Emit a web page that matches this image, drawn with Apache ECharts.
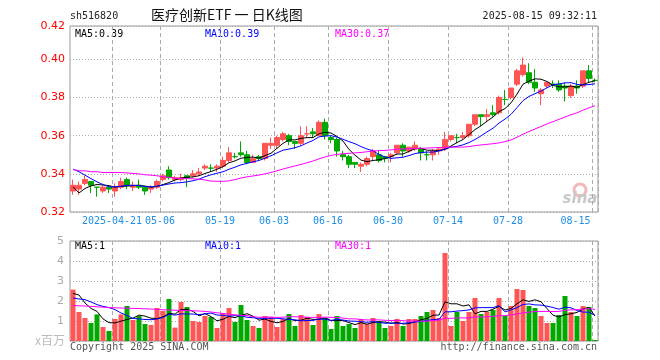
<!DOCTYPE html>
<html><head><meta charset="utf-8">
<script src="https://cdn.jsdelivr.net/npm/echarts@6/dist/echarts.min.js"></script>
<style>html,body{margin:0;padding:0;background:#fff}#c{width:660px;height:360px}</style>
</head><body><div id="c"></div>
<script>
const dates = [
'2025-04-10','2025-04-11','2025-04-14','2025-04-15','2025-04-16','2025-04-17','2025-04-18','2025-04-21','2025-04-22','2025-04-23','2025-04-24','2025-04-25','2025-04-28','2025-04-29','2025-04-30',
'2025-05-06','2025-05-07','2025-05-08','2025-05-09','2025-05-12','2025-05-13','2025-05-14','2025-05-15','2025-05-16','2025-05-19','2025-05-20','2025-05-21','2025-05-22','2025-05-23','2025-05-26','2025-05-27','2025-05-28','2025-05-29','2025-05-30',
'2025-06-03','2025-06-04','2025-06-05','2025-06-06','2025-06-09','2025-06-10','2025-06-11','2025-06-12','2025-06-13','2025-06-16','2025-06-17','2025-06-18','2025-06-19','2025-06-20','2025-06-23','2025-06-24','2025-06-25','2025-06-26','2025-06-27','2025-06-30',
'2025-07-01','2025-07-02','2025-07-03','2025-07-04','2025-07-07','2025-07-08','2025-07-09','2025-07-10','2025-07-11','2025-07-14','2025-07-15','2025-07-16','2025-07-17','2025-07-18','2025-07-21','2025-07-22','2025-07-23','2025-07-24','2025-07-25','2025-07-28','2025-07-29','2025-07-30','2025-07-31',
'2025-08-01','2025-08-04','2025-08-05','2025-08-06','2025-08-07','2025-08-08','2025-08-11','2025-08-12','2025-08-13','2025-08-14','2025-08-15'];

const opens  = [.331,.332,.335,.336,.333,.331,.333,.331,.333,.337,.333,.334,.333,.332,.333,.337,.342,.337,.337,.339,.339,.340,.343,.343,.343,.344,.347,.349,.351,.350,.346,.349,.348,.355,.355,.358,.360,.357,.356,.361,.362,.360,.367,.359,.358,.350,.349,.346,.344,.345,.349,.350,.349,.349,.351,.355,.352,.353,.353,.350,.350,.352,.353,.358,.359,.359,.360,.366,.371,.370,.372,.372,.379,.380,.387,.392,.393,.388,.382,.386,.387,.387,.386,.381,.386,.386,.394,.389];
const closes = [.334,.334,.337,.334,.333,.333,.332,.333,.336,.334,.334,.333,.331,.333,.336,.339,.338,.338,.338,.338,.340,.341,.344,.343,.344,.347,.351,.349,.350,.346,.348,.348,.356,.356,.359,.361,.357,.356,.360,.361,.361,.367,.360,.358,.352,.349,.345,.345,.345,.348,.352,.347,.348,.350,.355,.352,.354,.355,.351,.350,.352,.353,.358,.360,.359,.360,.366,.371,.370,.371,.371,.380,.379,.385,.394,.397,.388,.385,.384,.388,.387,.384,.385,.386,.385,.394,.390,.389];
const lows   = [.329,.329,.334,.330,.328,.330,.330,.328,.332,.332,.331,.332,.329,.330,.332,.336,.337,.336,.336,.333,.338,.339,.342,.341,.341,.343,.346,.348,.349,.345,.346,.347,.347,.353,.353,.357,.355,.353,.355,.359,.359,.360,.358,.356,.349,.347,.343,.343,.341,.344,.347,.346,.346,.346,.350,.349,.351,.352,.347,.347,.347,.350,.352,.357,.356,.358,.359,.365,.365,.367,.370,.371,.376,.379,.386,.391,.387,.383,.376,.385,.385,.383,.378,.380,.382,.385,.388,.388];
const highs  = [.337,.336,.339,.336,.333,.334,.334,.335,.338,.338,.336,.337,.333,.334,.337,.340,.344,.339,.340,.339,.342,.343,.345,.345,.345,.349,.354,.351,.357,.352,.350,.350,.356,.359,.360,.362,.361,.357,.365,.365,.364,.368,.369,.360,.359,.352,.350,.346,.346,.349,.353,.352,.349,.351,.355,.356,.354,.357,.354,.352,.353,.354,.362,.360,.361,.362,.366,.371,.371,.374,.376,.381,.384,.385,.395,.401,.398,.395,.385,.388,.389,.389,.388,.387,.389,.394,.397,.390];
const volumes = [2.57,1.45,1.15,0.90,1.33,0.70,0.50,1.10,1.33,1.75,1.05,1.25,0.85,0.80,1.65,1.50,2.10,0.67,1.95,1.70,1.00,0.95,1.25,1.20,0.65,1.38,1.65,0.95,1.80,1.05,0.75,0.65,1.25,1.20,0.70,1.10,1.35,0.75,1.30,1.20,0.80,1.35,1.15,0.60,1.25,0.75,0.85,0.65,1.10,0.85,1.15,1.00,0.65,0.75,1.10,0.75,1.10,1.10,1.25,1.45,1.55,1.15,4.40,0.75,1.45,1.00,1.45,2.15,1.35,1.45,1.55,2.15,1.25,1.75,2.60,2.55,1.75,1.65,1.25,0.90,0.90,1.30,2.25,1.45,1.25,1.75,1.70,0.05];

// moving-average values for the first days (history before the window)
const priceMa5Head  = [0.3332,0.3300,0.3323,0.3337];
const priceMa10Head = [0.3425,0.3411,0.3393,0.3375,0.3358,0.3344,0.3332,0.3332,0.3335];
const priceMa30Head = [0.3423,0.3416,0.3416,0.3411,0.3411,0.3407,0.3407,0.3407,0.3407,0.3405,0.3402,0.3400,0.3395,0.3393,0.3390,0.3384,0.3382,0.3377,0.3375,0.3375,0.3374,0.3372,0.3368,0.3362,0.3361,0.3361,0.3363,0.3370,0.3378];
const volMa5Head  = [2.38,2.30,1.90,1.63];
const volMa10Head = [2.15,2.10,2.07,1.95,1.82,1.73,1.67,1.57,1.40];
const volMa30Head = [1.78,1.76,1.75,1.73,1.71,1.69,1.67,1.66,1.65,1.64,1.63,1.62,1.61,1.60,1.58,1.56,1.55,1.54,1.53,1.52,1.51,1.50,1.48,1.45,1.41,1.38,1.34,1.31,1.28];

const tickIdx    = [7,15,25,34,43,53,63,73,87];
const tickLabels = ['2025-04-21','05-06','05-19','06-03','06-16','06-30','07-14','07-28','08-15'];
const priceLegend = ['MA5:0.39','MA10:0.39','MA30:0.37'];
const volLegend   = ['MA5:1','MA10:1','MA30:1'];

const UP = '#ff5555', DOWN = '#00a800';
function ma(arr, n, head) {
  return arr.map((v, i) => {
    if (i < n - 1) return head[i];
    let s = 0; for (let k = i - n + 1; k <= i; k++) s += arr[k];
    return +(s / n).toFixed(5);
  });
}
function sign(i) {
  if (closes[i] > opens[i]) return 1;
  if (closes[i] < opens[i]) return -1;
  return (i > 0 && closes[i - 1] > closes[i]) ? -1 : 1;
}
const kData = opens.map((o, i) => [o, closes[i], lows[i], highs[i]]);
const volData = volumes.map((v, i) => ({value: v, itemStyle: {color: sign(i) > 0 ? UP : DOWN}}));

const MONO = '"DejaVu Sans Mono", "Liberation Mono", monospace';
const vGrid = {show: true, interval: (i) => tickIdx.includes(i), lineStyle: {color: '#aaa', type: [4, 3], width: 1}};
const hGrid = {show: true, lineStyle: {color: '#aaa', type: [1, 2], width: 1}};

const chart = echarts.init(document.getElementById('c'), null, {renderer: 'canvas'});
function txt(text, x, y, color, font, align) {
  return {type: 'text', left: undefined, x: x, y: y, silent: true,
    style: {text: text, fill: color, font: font, textAlign: align || 'left', textVerticalAlign: 'middle'}};
}
chart.setOption({
  animation: false,
  backgroundColor: '#fff',
  grid: [
    {left: 70, top: 26, width: 528, height: 186, show: true, borderColor: '#999', borderWidth: 1, backgroundColor: 'transparent'},
    {left: 70, top: 241, width: 528, height: 100, show: true, borderColor: '#999', borderWidth: 1, backgroundColor: 'transparent'}
  ],
  xAxis: [
    {type: 'category', gridIndex: 0, data: dates, boundaryGap: true,
     axisLine: {show: false}, axisTick: {show: false}, splitLine: vGrid,
     axisLabel: {show: true, interval: (i) => tickIdx.includes(i), margin: 4,
       fontFamily: MONO, fontSize: 10, color: '#1e8ee6',
       formatter: (v, i) => { const k = tickIdx.indexOf(i); if (k < 0) return ''; return (k === tickIdx.length - 1 ? '{e|' : '{n|') + tickLabels[k] + '}'; },
       rich: {n: {padding: [0, 6, 0, 0], fontFamily: MONO, fontSize: 10, color: '#1e8ee6'},
              e: {padding: [0, 39, 0, 0], fontFamily: MONO, fontSize: 10, color: '#1e8ee6'}}}},
    {type: 'category', gridIndex: 1, data: dates, boundaryGap: true,
     axisLine: {show: false}, axisTick: {show: false}, axisLabel: {show: false}, splitLine: vGrid}
  ],
  yAxis: [
    {type: 'value', gridIndex: 0, min: 0.32, max: 0.4175, interval: 0.02, scale: true,
     axisLine: {show: false}, axisTick: {show: false}, splitLine: hGrid,
     axisLabel: {formatter: (v) => v.toFixed(2), color: '#ff0000', fontFamily: '"DejaVu Sans", sans-serif', fontSize: 11, margin: 5}},
    {type: 'value', gridIndex: 1, min: 0, max: 5, interval: 1,
     axisLine: {show: false}, axisTick: {show: false}, splitLine: hGrid,
     axisLabel: {formatter: (v) => v === 0 ? '' : String(v), color: '#aaa', fontFamily: '"DejaVu Sans", sans-serif', fontSize: 11, margin: 6}}
  ],
  series: [
    {type: 'candlestick', xAxisIndex: 0, yAxisIndex: 0, data: kData, barWidth: 5,
     itemStyle: {color: UP, color0: DOWN, borderColor: UP, borderColor0: DOWN, borderWidth: 1}},
    {type: 'line', xAxisIndex: 0, yAxisIndex: 0, data: ma(closes, 5, priceMa5Head), showSymbol: false, lineStyle: {color: '#000', width: 1}, itemStyle: {color: '#000'}},
    {type: 'line', xAxisIndex: 0, yAxisIndex: 0, data: ma(closes, 10, priceMa10Head), showSymbol: false, lineStyle: {color: '#0000ff', width: 1}, itemStyle: {color: '#0000ff'}},
    {type: 'line', xAxisIndex: 0, yAxisIndex: 0, data: ma(closes, 30, priceMa30Head), showSymbol: false, lineStyle: {color: '#ff00ff', width: 1}, itemStyle: {color: '#ff00ff'}},
    {type: 'bar', xAxisIndex: 1, yAxisIndex: 1, data: volData, barWidth: 5},
    {type: 'line', xAxisIndex: 1, yAxisIndex: 1, data: ma(volumes, 5, volMa5Head), showSymbol: false, lineStyle: {color: '#000', width: 1}, itemStyle: {color: '#000'}},
    {type: 'line', xAxisIndex: 1, yAxisIndex: 1, data: ma(volumes, 10, volMa10Head), showSymbol: false, lineStyle: {color: '#0000ff', width: 1}, itemStyle: {color: '#0000ff'}},
    {type: 'line', xAxisIndex: 1, yAxisIndex: 1, data: ma(volumes, 30, volMa30Head), showSymbol: false, lineStyle: {color: '#ff00ff', width: 1}, itemStyle: {color: '#ff00ff'}}
  ],
  graphic: [
    txt('sh516820', 70, 16, '#222', '10px ' + MONO),
    txt('医疗创新ETF 一 日K线图', 151, 15, '#111', '14px "Noto Sans CJK SC"'),
    txt('2025-08-15 09:32:11', 597, 16, '#222', '10px ' + MONO, 'right'),
    txt(priceLegend[0], 75, 34, '#000', '10px ' + MONO),
    txt(priceLegend[1], 205, 34, '#0000ff', '10px ' + MONO),
    txt(priceLegend[2], 335, 34, '#ff00ff', '10px ' + MONO),
    txt(volLegend[0], 75, 246, '#000', '10px ' + MONO),
    txt(volLegend[1], 205, 246, '#0000ff', '10px ' + MONO),
    txt(volLegend[2], 335, 246, '#ff00ff', '10px ' + MONO),
    txt('x百万', 65, 340, '#bbb', '12px "Noto Sans CJK SC"', 'right'),
    txt('Copyright 2025 SINA.COM', 70, 347, '#555', '10px ' + MONO),
    txt('http://finance.sina.com.cn', 597, 347, '#555', '10px ' + MONO, 'right'),
    {type: 'circle', x: 580, y: 190, silent: true, shape: {r: 6}, style: {fill: 'none', stroke: '#f4b8b8', lineWidth: 3}},
    txt('sina', 580, 199, '#c8c8c8', 'italic bold 15px "DejaVu Sans"', 'center')
  ]
});
</script></body></html>
